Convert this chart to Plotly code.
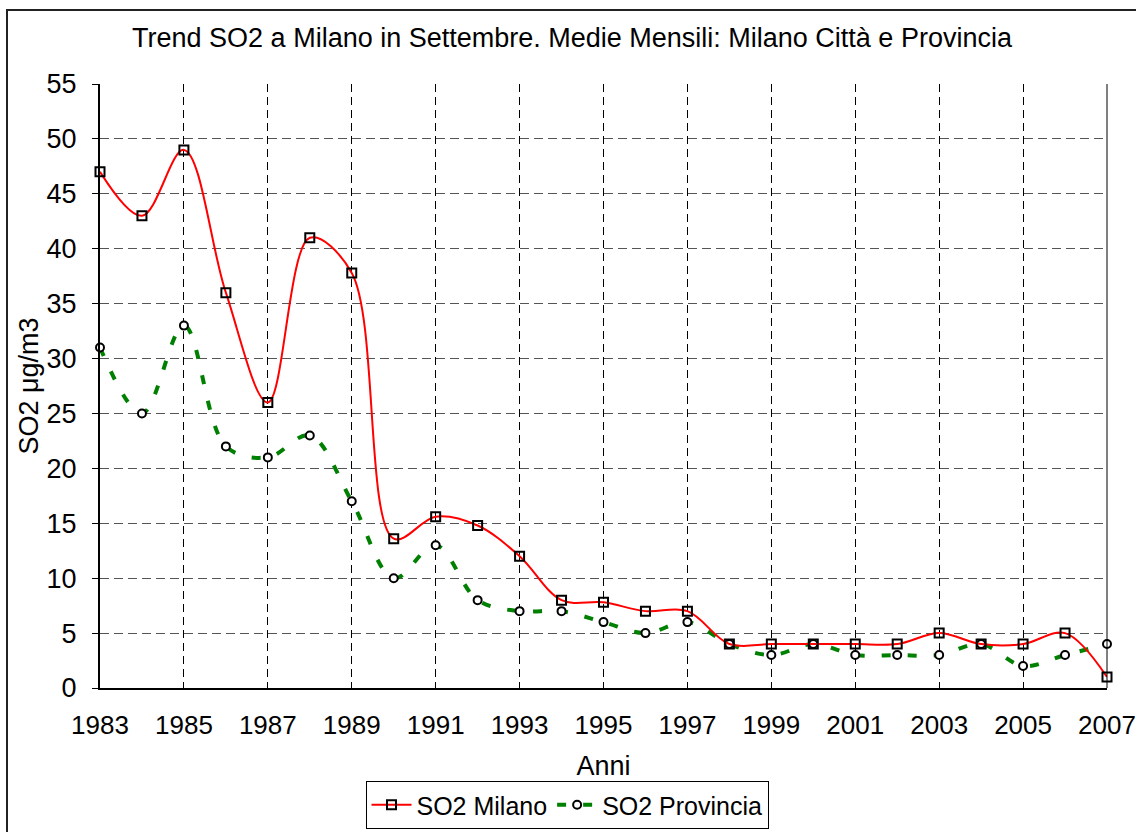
import plotly.graph_objects as go

years = list(range(1983, 2008))
so2_milano = [47, 43, 49, 36, 26, 41, 37.8, 13.6, 15.6, 14.8, 12, 8, 7.8, 7, 7,
              4, 4, 4, 4, 4, 5, 4, 4, 5, 1]
so2_provincia = [31, 25, 33, 22, 21, 23, 17, 10, 13, 8, 7, 7, 6, 5, 6,
                 4, 3, 4, 3, 3, 3, 4, 2, 3, 4]

FONT = "Liberation Sans, Arial, sans-serif"
FS = 27

fig = go.Figure()
fig.add_trace(go.Scatter(
    x=years, y=so2_provincia, name="SO2 Provincia", mode="lines+markers",
    line=dict(color="#008000", width=4, dash="9px,17px", shape="spline", smoothing=1.0),
    marker=dict(symbol="circle", size=8, color="white", line=dict(width=2, color="black")),
    cliponaxis=False,
))
fig.add_trace(go.Scatter(
    x=years, y=so2_milano, name="SO2 Milano", mode="lines+markers",
    line=dict(color="#ff0000", width=2, shape="spline", smoothing=1.0),
    marker=dict(symbol="square-open", size=9, color="black", line=dict(width=2, color="black")),
    cliponaxis=False,
))

W, H = 1136, 832
L, R, T, B = 100, 29, 84, 144
pw, ph = W - L - R, H - T - B

def px_x(p):
    return (p - L) / pw

def px_y(p):
    return (H - B - p) / ph

fig.update_layout(
    width=W, height=H,
    margin=dict(l=L, r=R, t=T, b=B, autoexpand=False),
    paper_bgcolor="white", plot_bgcolor="white",
    font=dict(family=FONT, size=FS, color="black"),
    title=dict(text="Trend SO2 a Milano in Settembre. Medie Mensili: Milano Città e Provincia",
               x=572 / W, xref="container", xanchor="center",
               y=1 - 38 / H, yref="container", yanchor="middle",
               font=dict(family=FONT, size=FS, color="black")),
    showlegend=True,
    legend=dict(orientation="h", x=(567 - L) / pw, xanchor="center", xref="paper",
                y=px_y(781), yanchor="top", yref="paper",
                bordercolor="black", borderwidth=1, bgcolor="white",
                font=dict(family=FONT, size=25), itemwidth=40,
                traceorder="reversed", tracegroupgap=0),
    xaxis=dict(range=[1983, 2007], tick0=1983, dtick=2, showgrid=True,
               gridcolor="black", griddash="8px,5px", gridwidth=1,
               showline=True, linecolor="black", linewidth=2,
               ticks="", ticklabelstandoff=13, zeroline=False,
               ticklabeloverflow="allow",
               title=dict(text="Anni", standoff=17, font=dict(size=FS)),
               tickfont=dict(size=26)),
    yaxis=dict(range=[0, 55], dtick=5, showgrid=True,
               gridcolor="#555555", griddash="9px,5px", gridwidth=1,
               showline=True, linecolor="black", linewidth=2,
               ticks="outside", ticklen=6, tickcolor="black", tickwidth=1,
               ticklabelstandoff=10, zeroline=False,
               ticklabeloverflow="allow",
               title=dict(text="SO2 μg/m3", standoff=0, font=dict(size=FS)),
               tickfont=dict(size=FS)),
    shapes=[
        dict(type="line", xref="paper", yref="paper", x0=1, x1=1, y0=0, y1=1,
             line=dict(color="black", width=1)),
        dict(type="rect", xref="paper", yref="paper",
             x0=px_x(7), x1=px_x(1180), y0=px_y(10), y1=px_y(880),
             line=dict(color="#222222", width=2), layer="below"),
    ],
)

fig.write_html("out.html",
               config={"displayModeBar": False},
               post_script="document.body.style.margin='0';document.body.style.overflow='hidden';")
